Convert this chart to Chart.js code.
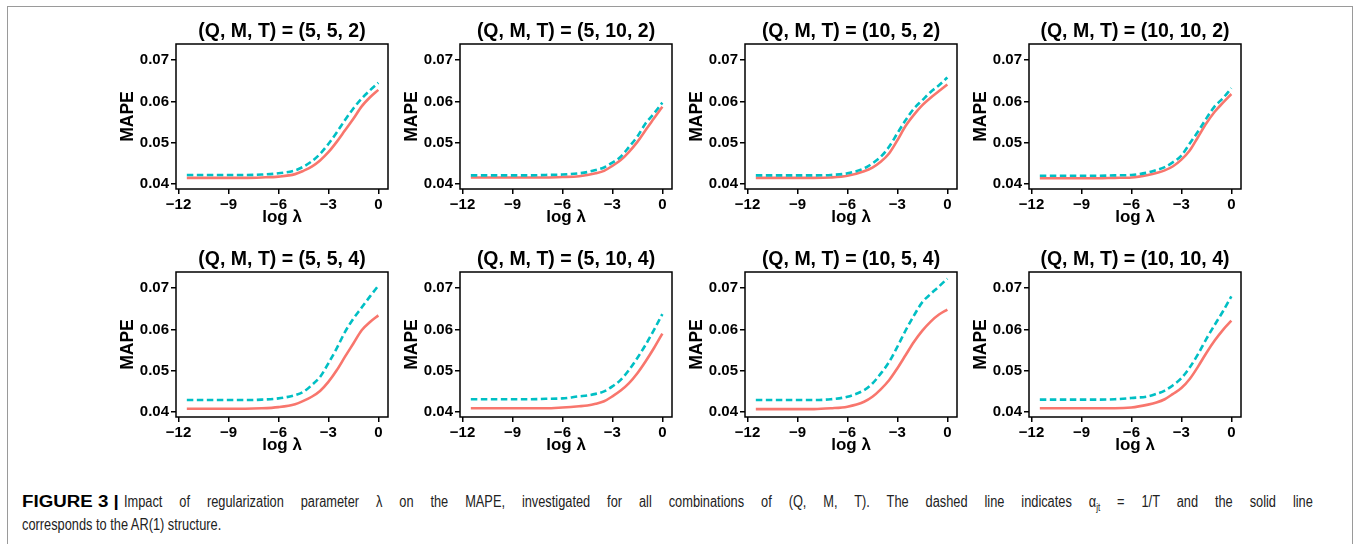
<!DOCTYPE html>
<html>
<head>
<meta charset="utf-8">
<script src="https://cdn.jsdelivr.net/npm/chart.js@4.4.1/dist/chart.umd.min.js"></script>
<style>
  html, body { margin: 0; padding: 0; background: #fff; }
  body { width: 1356px; height: 544px; position: relative; overflow: hidden; }
  #frame { position: absolute; left: 7px; top: 6px; width: 1344px; height: 600px; border: 1px solid #9a9a9a; }
  .panel { position: absolute; width: 284px; height: 225px; }
  .cap { position: absolute; white-space: nowrap; font-family: 'Liberation Sans', Arial, sans-serif; font-size: 16px; line-height: 16px; color: #222; }
  .cond { transform: scaleX(0.8); transform-origin: 0 0; }
  .just { white-space: normal; text-align: justify; text-align-last: justify; width: 1486px; }
  .cap b { color: #000; }
</style>
</head>
<body>
<div id="frame"></div>
<div id="charts"></div>
<div class="cap" style="left:22px; top:494px;"><b style="display:inline-block; transform:scaleX(1.17); transform-origin:0 0;">FIGURE 3 |</b></div>
<div class="cap cond just" style="left:124px; top:494px;">Impact of regularization parameter λ on the MAPE, investigated for all combinations of (Q, M, T). The dashed line indicates α<sub style="font-size:10px; line-height:0;">jt</sub> = 1/T and the solid line</div>
<div class="cap cond" style="left:22px; top:517px;">corresponds to the AR(1) structure.</div>

<script>
// log(lambda) grid shared by every panel
const logLambda = [-11.5, -10, -8, -7, -6, -5, -4.5, -4, -3.5, -3, -2.5, -2, -1.5, -1, -0.5, 0];

// panel titles, (Q, M, T)
const panelTitles = [
  '(Q, M, T) = (5, 5, 2)', '(Q, M, T) = (5, 10, 2)', '(Q, M, T) = (10, 5, 2)', '(Q, M, T) = (10, 10, 2)',
  '(Q, M, T) = (5, 5, 4)', '(Q, M, T) = (5, 10, 4)', '(Q, M, T) = (10, 5, 4)', '(Q, M, T) = (10, 10, 4)'
];

// solid line: AR(1) structure
const ar1_5_5_2   = [0.0415,0.0415,0.0415,0.0416,0.0418,0.0424,0.0432,0.0442,0.0457,0.0477,0.0502,0.0530,0.0558,0.0588,0.0610,0.0628];
const ar1_5_10_2  = [0.0416,0.0416,0.0416,0.0416,0.0417,0.0419,0.0422,0.0426,0.0432,0.0444,0.0458,0.0478,0.0502,0.0531,0.0559,0.0587];
const ar1_10_5_2  = [0.0415,0.0415,0.0415,0.0416,0.0420,0.0431,0.0440,0.0454,0.0474,0.0506,0.0541,0.0568,0.0591,0.0609,0.0625,0.0641];
const ar1_10_10_2 = [0.0414,0.0414,0.0414,0.0415,0.0416,0.0422,0.0427,0.0433,0.0443,0.0459,0.0481,0.0514,0.0547,0.0575,0.0597,0.0618];
const ar1_5_5_4   = [0.0408,0.0408,0.0408,0.0409,0.0412,0.0419,0.0427,0.0437,0.0451,0.0473,0.0501,0.0534,0.0566,0.0598,0.0618,0.0634];
const ar1_5_10_4  = [0.0409,0.0409,0.0409,0.0409,0.0411,0.0414,0.0416,0.0420,0.0426,0.0438,0.0452,0.0470,0.0494,0.0523,0.0555,0.0590];
const ar1_10_5_4  = [0.0407,0.0407,0.0407,0.0409,0.0413,0.0425,0.0437,0.0455,0.0477,0.0506,0.0538,0.0570,0.0597,0.0619,0.0636,0.0648];
const ar1_10_10_4 = [0.0409,0.0409,0.0409,0.0409,0.0411,0.0418,0.0423,0.0431,0.0444,0.0458,0.0480,0.0510,0.0543,0.0573,0.0599,0.0621];

// dashed line: alpha_jt = 1/T
const eq_5_5_2   = [0.0422,0.0422,0.0422,0.0423,0.0426,0.0433,0.0442,0.0455,0.0473,0.0497,0.0525,0.0555,0.0583,0.0607,0.0627,0.0645];
const eq_5_10_2  = [0.0421,0.0421,0.0421,0.0422,0.0423,0.0426,0.0429,0.0434,0.0440,0.0452,0.0466,0.0490,0.0515,0.0547,0.0571,0.0597];
const eq_10_5_2  = [0.0421,0.0421,0.0421,0.0422,0.0426,0.0438,0.0450,0.0466,0.0490,0.0523,0.0555,0.0583,0.0603,0.0623,0.0639,0.0658];
const eq_10_10_2 = [0.0420,0.0420,0.0420,0.0421,0.0422,0.0428,0.0434,0.0441,0.0453,0.0469,0.0498,0.0527,0.0559,0.0588,0.0608,0.0632];
const eq_5_5_4   = [0.0429,0.0429,0.0429,0.0430,0.0433,0.0441,0.0449,0.0465,0.0485,0.0518,0.0554,0.0594,0.0626,0.0653,0.0680,0.0706];
const eq_5_10_4  = [0.0431,0.0431,0.0431,0.0432,0.0433,0.0438,0.0440,0.0444,0.0450,0.0462,0.0478,0.0502,0.0531,0.0563,0.0599,0.0637];
const eq_10_5_4  = [0.0429,0.0429,0.0429,0.0431,0.0437,0.0453,0.0469,0.0493,0.0521,0.0558,0.0598,0.0634,0.0666,0.0686,0.0704,0.0723];
const eq_10_10_4 = [0.0430,0.0430,0.0430,0.0431,0.0434,0.0438,0.0444,0.0452,0.0465,0.0482,0.0508,0.0540,0.0577,0.0611,0.0644,0.0680];

const solidSeries  = [ar1_5_5_2, ar1_5_10_2, ar1_10_5_2, ar1_10_10_2, ar1_5_5_4, ar1_5_10_4, ar1_10_5_4, ar1_10_10_4];
const dashedSeries = [eq_5_5_2, eq_5_10_2, eq_10_5_2, eq_10_10_2, eq_5_5_4, eq_5_10_4, eq_10_5_4, eq_10_10_4];

const xTicks = [-12, -9, -6, -3, 0];
const yTicks = [0.04, 0.05, 0.06, 0.07];

const solidColor = '#F8766D';
const dashedColor = '#00BFC4';

// panel boxes (plot area left / top)
const colLeft = [176, 460, 745, 1029];
const rowTop = [44, 272];

Chart.defaults.font.family = "'Liberation Sans', Arial, sans-serif";
Chart.defaults.font.weight = 'bold';
Chart.defaults.color = '#000';
Chart.defaults.animation = false;

// plain black frame round the plotting area
const boxPlugin = {
  id: 'box',
  afterDatasetsDraw(chart) {
    const { ctx, chartArea: a } = chart;
    ctx.save();
    ctx.strokeStyle = '#000';
    ctx.lineWidth = 1.5;
    ctx.strokeRect(a.left, a.top, a.right - a.left, a.bottom - a.top);
    ctx.restore();
  }
};

const toPoints = arr => arr.map((v, i) => ({ x: logLambda[i], y: v }));

panelTitles.forEach((title, i) => {
  const L = colLeft[i % 4];
  const T = rowTop[Math.floor(i / 4)];
  const div = document.createElement('div');
  div.className = 'panel';
  div.style.left = (L - 60) + 'px';
  div.style.top = (T - 40) + 'px';
  const canvas = document.createElement('canvas');
  div.appendChild(canvas);
  document.getElementById('charts').appendChild(div);

  new Chart(canvas.getContext('2d'), {
    type: 'line',
    data: {
      datasets: [
        {
          label: 'alpha = 1/T',
          data: toPoints(dashedSeries[i]),
          borderColor: dashedColor,
          borderWidth: 2.6,
          borderDash: [6.5, 3.5],
          pointRadius: 0,
          cubicInterpolationMode: 'monotone'
        },
        {
          label: 'AR(1)',
          data: toPoints(solidSeries[i]),
          borderColor: solidColor,
          borderWidth: 2.6,
          pointRadius: 0,
          cubicInterpolationMode: 'monotone'
        }
      ]
    },
    options: {
      responsive: true,
      maintainAspectRatio: false,
      layout: { padding: { left: 0, right: 12, top: 0, bottom: 0 } },
      plugins: {
        legend: { display: false },
        tooltip: { enabled: false },
        title: {
          display: true,
          text: title,
          fullSize: false,
          font: { size: 19.5, weight: 'bold' },
          padding: { top: 16.3, bottom: 0.3 }
        }
      },
      scales: {
        x: {
          type: 'linear',
          min: -12.15,
          max: 0.58,
          afterBuildTicks: s => { s.ticks = xTicks.map(v => ({ value: v })); },
          afterFit: s => { s.height = 40; },
          border: { display: false },
          grid: { drawOnChartArea: false, drawTicks: true, tickLength: 5, color: '#000', lineWidth: 1.5 },
          ticks: {
            font: { size: 15 },
            padding: 1.5,
            maxRotation: 0,
            callback: v => v < 0 ? '\u2212' + Math.abs(v) : String(v)
          },
          title: { display: true, text: 'log λ', font: { size: 17 }, padding: { top: 0, bottom: 1.8 } }
        },
        y: {
          min: 0.0388,
          max: 0.0739,
          afterBuildTicks: s => { s.ticks = yTicks.map(v => ({ value: v })); },
          afterFit: s => { s.width = 60; },
          border: { display: false },
          grid: { drawOnChartArea: false, drawTicks: true, tickLength: 5, color: '#000', lineWidth: 1.5 },
          ticks: {
            font: { size: 15 },
            padding: 2,
            callback: v => v.toFixed(2)
          },
          title: { display: true, text: 'MAPE', font: { size: 17.5 }, padding: { top: 1.2, bottom: 0 } }
        }
      }
    },
    plugins: [boxPlugin]
  });
});
</script>
</body>
</html>
